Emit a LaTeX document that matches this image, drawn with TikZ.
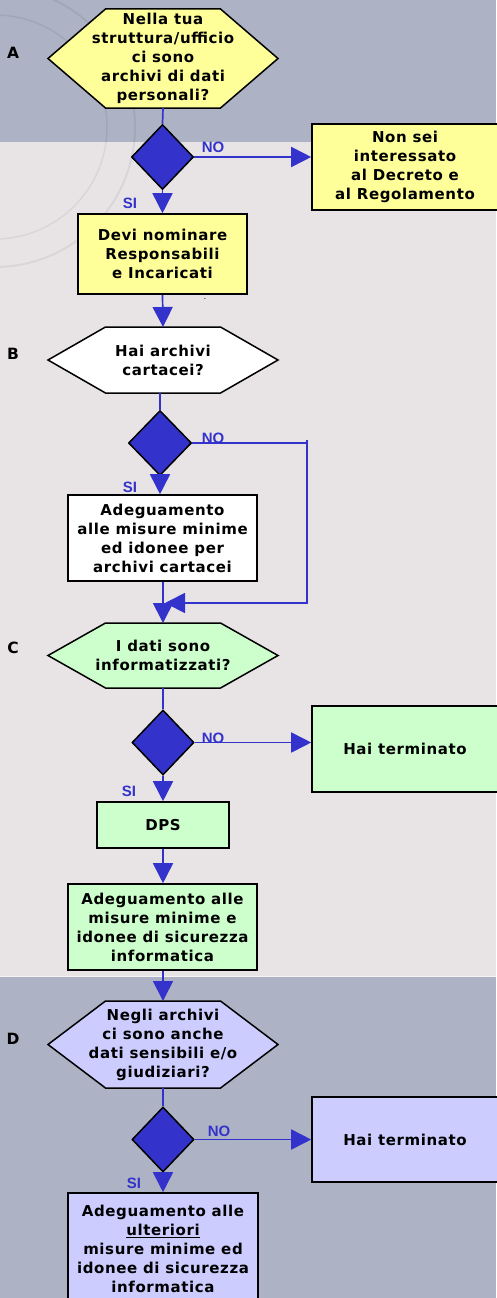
\documentclass[tikz,border=0pt]{standalone}
\usepackage{fontspec}
\newfontfamily\boxfont[LetterSpace=4]{DejaVu Sans}
\newfontfamily\lblfont{Liberation Sans}
\usetikzlibrary{shapes.geometric,arrows.meta}
\definecolor{bandblue}{HTML}{ADB2C4}
\definecolor{bggray}{HTML}{E8E4E6}
\definecolor{fyellow}{HTML}{FFFF99}
\definecolor{fgreen}{HTML}{CCFFCC}
\definecolor{flav}{HTML}{CCCCFF}
\definecolor{dblue}{HTML}{3333CC}
\newcommand\hexshape[7]{%
  \path[draw=black, line width=1.5pt, fill=#6]
    (#2-#4,#3) -- (#2-#4+57.5,#3-#5) -- (#2+#4-57.5,#3-#5) -- (#2+#4,#3)
    -- (#2+#4-57.5,#3+#5) -- (#2-#4+57.5,#3+#5) -- cycle;
  \coordinate (#1-n) at (#2,#3-#5);
  \coordinate (#1-s) at (#2,#3+#5);
  \node[txt] (#1) at (#2,#3) {#7};
}
\tikzset{
  txt/.style={font=\boxfont\bfseries\fontsize{15}{19}\selectfont, align=center, text=black, inner sep=0pt},
  boxnode/.style={txt, draw=black, line width=1.6pt},
  dia/.style={diamond, draw=black, line width=1.5pt, fill=dblue, minimum width=62pt, minimum height=65pt, inner sep=0pt},
  flow/.style={draw=dblue, line width=1.7pt, -{Triangle[length=20pt,width=20pt]}},
  plainline/.style={draw=dblue, line width=1.7pt},
  lbl/.style={font=\lblfont\bfseries\fontsize{15}{15}\selectfont, text=dblue, inner sep=0pt},
  sect/.style={font=\boxfont\bfseries\fontsize{15.5}{15.5}\selectfont, text=black, inner sep=0pt},
}
\begin{document}
\begin{tikzpicture}[x=1pt,y=-1pt]
\useasboundingbox (0,0) rectangle (496,1298);
% background
\fill[bggray] (0,0) rectangle (496,1298);
\fill[bandblue] (0,0) rectangle (496,142);
\fill[bandblue] (0,976) rectangle (496,1298);
\draw[white!60!bggray, line width=1pt] (0,976) -- (496,976);
% faint seal
\draw[black, opacity=0.06, line width=2pt] (-5,127) circle[radius=140];
\draw[black, opacity=0.06, line width=1.5pt] (-5,127) circle[radius=112];

% section letters
\node[sect] (lA) at (13,53) {A};
\node[sect] (lB) at (13,354) {B};
\node[sect] (lC) at (13,648) {C};
\node[sect] (lD) at (13,1039) {D};

% ---- A ----
\hexshape{hA}{163}{58.5}{115}{49.5}{fyellow}{\fontsize{15}{17.4}\selectfont Nella tua\\struttura/ufficio\\ci sono\\archivi di dati\\personali?}
\node[dia] (dA) at (162.5,157) {};
\node[boxnode, fill=fyellow, minimum width=186pt, minimum height=86pt] (nA) at (405,167) {Non sei\\interessato\\al Decreto e\\al Regolamento};
\node[boxnode, fill=fyellow, minimum width=169pt, minimum height=80pt] (devi) at (162.5,254) {\fontsize{15}{18}\selectfont Devi nominare\\Responsabili\\e Incaricati};
\node[inner sep=0pt, font=\fontsize{10}{10}\selectfont, anchor=base] (dot) at (205,299) {.};

\draw[plainline] (hA-s) -- (dA.north);
\draw[flow] (dA.east) -- (dA.east -| nA.west);
\draw[flow] (dA.south) -- (devi.north);
\node[lbl] (noA) at (213,147) {NO};
\node[lbl] (siA) at (130,203) {SI};

% ---- B ----
\hexshape{hB}{163}{360}{115}{33}{white}{Hai archivi\\cartacei?}
\draw[flow] (devi.south) -- (hB-n);
\node[dia, minimum width=63pt] (dB) at (160,443) {};
\node[boxnode, fill=white, minimum width=189pt, minimum height=86pt] (cart) at (162.5,538) {Adeguamento\\alle misure minime\\ed idonee per\\archivi cartacei};
\draw[plainline] (dB.north |- hB-s) -- (dB.north);
\draw[flow] (dB.south) -- (dB.south |- cart.north);
\coordinate (bR1) at (307,443);
\coordinate (bR2) at (307,603);
\coordinate (bJ) at (165,603);
\draw[plainline] (bR1) -- +(0,-3);
\draw[flow] (dB.east) -- (bR1) -- (bR2) -- (bJ);
\node[lbl] (noB) at (213,438) {NO};
\node[lbl] (siB) at (130,487) {SI};

% ---- C ----
\hexshape{hC}{163}{655.5}{115}{32.5}{fgreen}{I dati sono\\informatizzati?}
\draw[flow] (cart.south -| hC-n) -- (hC-n);
\node[dia] (dC) at (163,742.5) {};
\node[boxnode, fill=fgreen, minimum width=186pt, minimum height=86pt] (endC) at (405,749) {Hai terminato};
\node[boxnode, fill=fgreen, minimum width=132pt, minimum height=46pt] (dps) at (163,825) {DPS};
\node[boxnode, fill=fgreen, minimum width=189pt, minimum height=86pt] (inf) at (162.5,927) {Adeguamento alle\\misure minime e\\idonee di sicurezza\\informatica};
\draw[plainline] (hC-s) -- (dC.north);
\draw[flow] (dC.east) -- (dC.east -| endC.west);
\draw[flow] (dC.south) -- (dps.north);
\draw[flow] (dps.south) -- (dps.south |- inf.north);
\node[lbl] (noC) at (213,738) {NO};
\node[lbl] (siC) at (129,791) {SI};

% ---- D ----
\hexshape{hD}{163}{1044.5}{115}{43.5}{flav}{\fontsize{15}{17.9}\selectfont Negli archivi\\ci sono anche\\dati sensibili e/o\\giudiziari?}
\draw[flow] (inf.south -| hD-n) -- (hD-n);
\node[dia] (dD) at (163,1139.5) {};
\node[boxnode, fill=flav, minimum width=186pt, minimum height=85pt] (endD) at (405,1139.5) {Hai terminato};
\node[boxnode, fill=flav, minimum width=190pt, minimum height=112pt] (fin) at (163,1249) {Adeguamento alle\\\underline{ulteriori}\\misure minime ed\\idonee di sicurezza\\informatica};
\draw[plainline] (hD-s) -- (dD.north);
\draw[flow] (dD.east) -- (dD.east -| endD.west);
\draw[flow] (dD.south) -- (fin.north);
\node[lbl] (noD) at (219,1131) {NO};
\node[lbl] (siD) at (134,1183) {SI};
\end{tikzpicture}
\end{document}
